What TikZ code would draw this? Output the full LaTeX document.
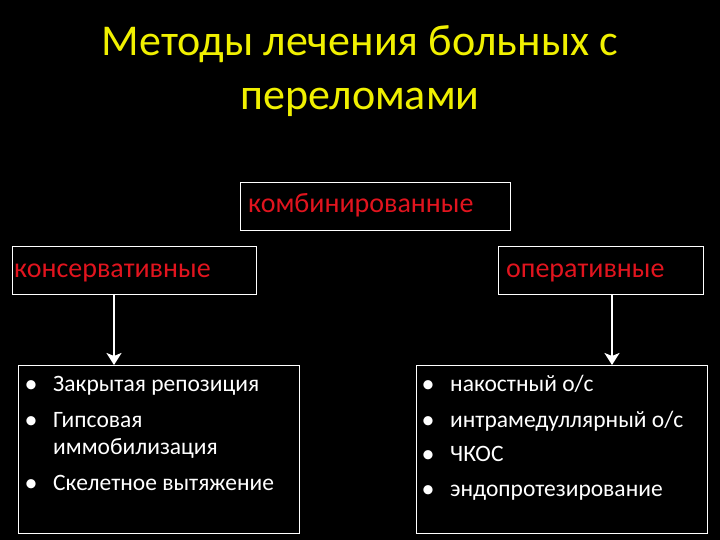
\documentclass[tikz,border=0pt]{standalone}
\usepackage{fontspec}
\setmainfont{Carlito}
\usetikzlibrary{arrows.meta}
\definecolor{ttl}{RGB}{240,240,0}
\definecolor{lbl}{RGB}{225,20,30}
\tikzset{
  box/.style={draw=white, line width=1.2pt, inner sep=0pt, anchor=north west},
  lbltext/.style={text=lbl, font=\fontsize{28}{32}\selectfont, anchor=base west, inner sep=0pt},
  itemtext/.style={text=white, font=\fontsize{23.5}{28}\selectfont, anchor=base west, inner sep=0pt},
  bul/.style={text=white, font=\fontsize{26}{28}\selectfont, anchor=base, inner sep=0pt},
  arr/.style={draw=white, line width=2.6pt, -{Stealth[length=12pt,width=15pt,inset=3pt]}},
}
\begin{document}
\begin{tikzpicture}[x=1pt,y=-1pt]
\fill[black] (0,0) rectangle (720,540);
\useasboundingbox (0,0) rectangle (720,540);
% title
\node[text=ttl, font=\fontsize{44}{55}\selectfont, anchor=base, inner sep=0pt] (t1) at (360,56) {Методы лечения больных с};
\node[text=ttl, font=\fontsize{44}{55}\selectfont, anchor=base, inner sep=0pt] (t2) at (360,110) {переломами};
% boxes
\node[box, minimum width=270pt, minimum height=48pt] (comb) at (240,182) {};
\node[box, minimum width=244pt, minimum height=48pt] (cons) at (12,246) {};
\node[box, minimum width=205pt, minimum height=48pt] (oper) at (498,246) {};
\node[box, minimum width=281pt, minimum height=168pt] (lbox) at (18,365) {};
\node[box, minimum width=291pt, minimum height=168pt] (rbox) at (416,365) {};
% labels
\node[lbltext] (combt) at (248,213) {комбинированные};
\node[lbltext] (const) at (14,277) {консервативные};
\node[lbltext] (opert) at (506,277) {оперативные};
% arrows
\coordinate (la) at (114,0);
\coordinate (ra) at (612,0);
\draw[arr] (cons.south -| la) -- (lbox.north -| la);
\draw[arr] (oper.south -| ra) -- (rbox.north -| ra);
% left items
\node[bul] (lb1) at (31,392) {•};
\node[itemtext] (li1) at (53,391) {Закрытая репозиция};
\node[bul] (lb2) at (31,428) {•};
\node[itemtext] (li2) at (53,427) {Гипсовая};
\node[itemtext] (li3) at (53,454) {иммобилизация};
\node[bul] (lb3) at (31,491) {•};
\node[itemtext] (li4) at (53,490) {Скелетное вытяжение};
% right items
\node[bul] (rb1) at (428,392) {•};
\node[itemtext] (ri1) at (450,391) {накостный о/с};
\node[bul] (rb2) at (428,428) {•};
\node[itemtext] (ri2) at (450,427) {интрамедуллярный о/с};
\node[bul] (rb3) at (428,462) {•};
\node[itemtext] (ri3) at (450,461) {ЧКОС};
\node[bul] (rb4) at (428,497) {•};
\node[itemtext] (ri4) at (450,496) {эндопротезирование};
\end{tikzpicture}
\end{document}
